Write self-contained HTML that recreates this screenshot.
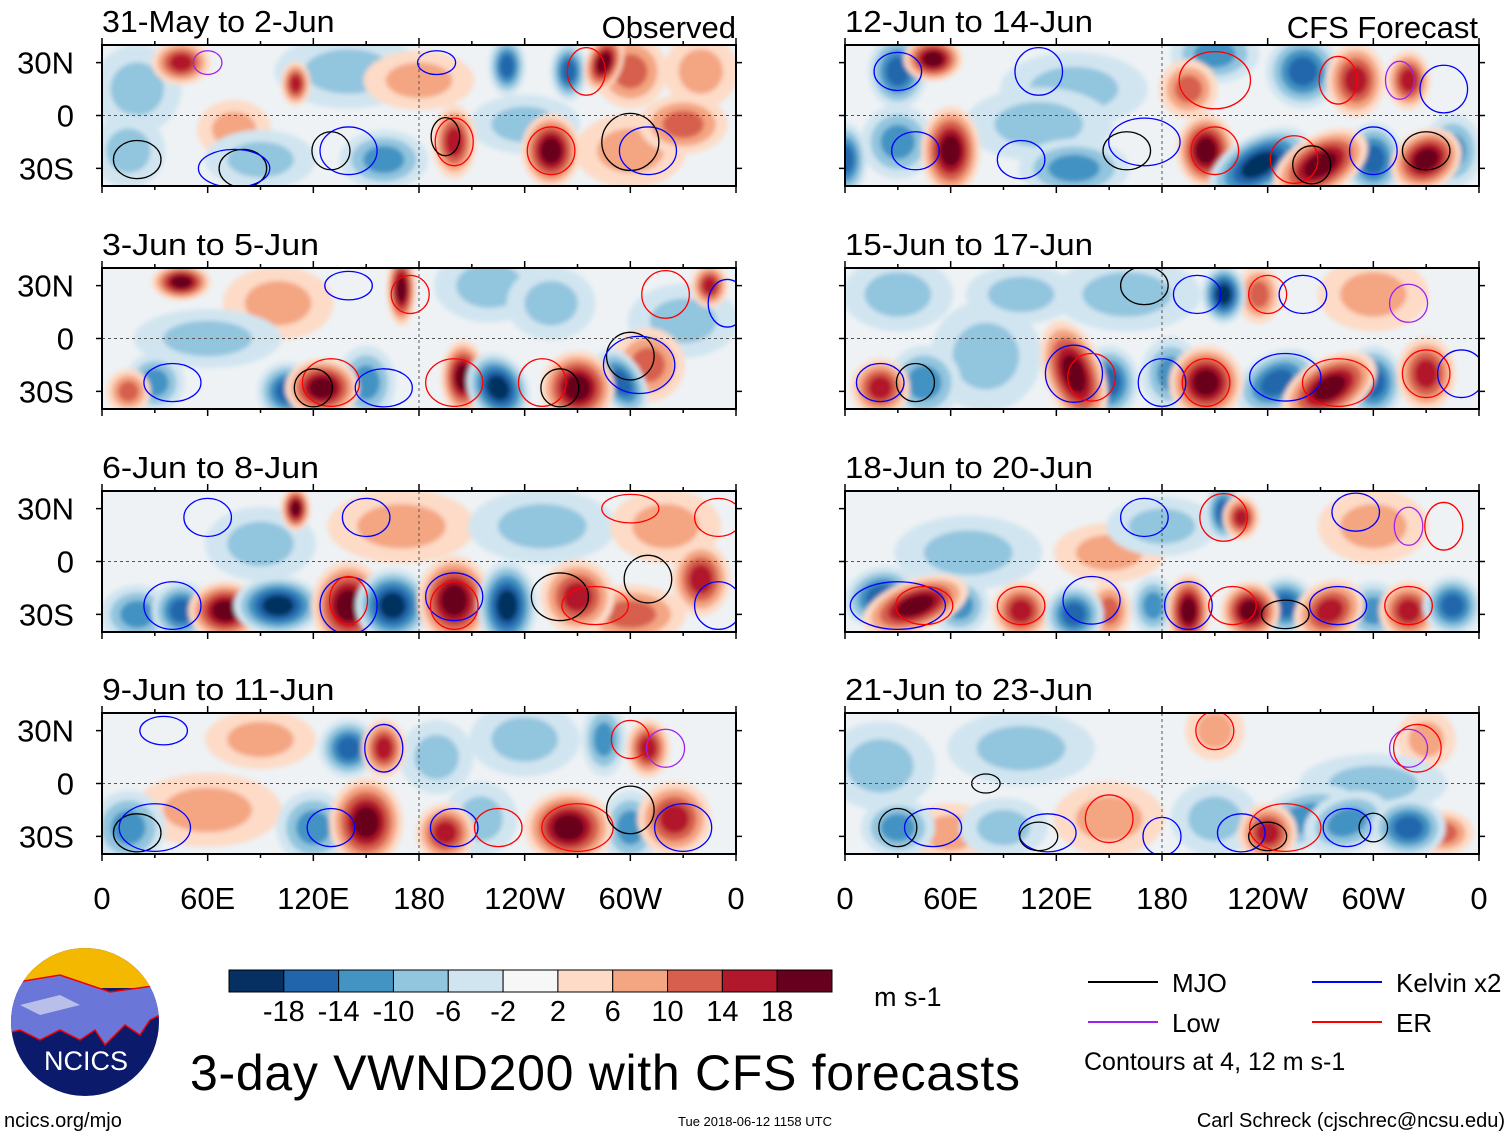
<!DOCTYPE html>
<html><head><meta charset="utf-8">
<style>
body{margin:0;background:#fff;font-family:"Liberation Sans",sans-serif;}
svg{display:block}
text{font-family:"Liberation Sans",sans-serif;}
</style></head>
<body>
<svg id="fig" width="1510" height="1137" viewBox="0 0 1510 1137">
<defs>
<filter id="blur" x="-20%" y="-20%" width="140%" height="140%"><feGaussianBlur stdDeviation="2.5"/></filter>
</defs>
</svg>
<script>
const levels = [-18,-14,-10,-6,-2,2,6,10,14,18];
const colors = ["#053061","#2166ac","#4393c3","#92c5de","#d1e5f0","#f7f7f7","#fddbc7","#f4a582","#d6604d","#b2182b","#67001f"];
const panelTitles = ["31-May to 2-Jun","3-Jun to 5-Jun","6-Jun to 8-Jun","9-Jun to 11-Jun","12-Jun to 14-Jun","15-Jun to 17-Jun","18-Jun to 20-Jun","21-Jun to 23-Jun"];
const lonTicks = ["0","60E","120E","180","120W","60W","0"];
const latTicks = ["30N","0","30S"];
// anomaly blobs: [lon, lat, value, rxDeg, ryDeg, angle]
const blobs0 = [[45,30,14,8,6,0],[110,18,14,4,6,0],[75,-8,6,10,8,0],[230,28,-14,5,8,0],[285,30,18,5,8,20],[300,25,10,10,10,0],[265,25,-14,5,8,0],[200,-15,14,6,10,0],[255,-20,18,8,10,0],[160,-25,-10,12,8,0],[330,-5,10,12,8,0],[20,15,-6,12,12,0],[140,25,-6,20,10,0],[180,20,6,15,8,0],[240,-5,-6,15,8,0],[300,-20,6,15,10,0],[90,-25,-6,15,8,0],[340,25,6,10,10,0],[15,-20,-6,10,10,0]];
const blobs1 = [[45,32,18,8,5,0],[170,28,18,4,10,0],[125,-28,18,10,8,0],[105,-30,-14,8,8,0],[150,-25,-10,8,10,0],[205,-22,18,6,10,0],[225,-28,-18,8,10,-30],[270,-28,18,10,10,-30],[295,-25,-14,6,10,-30],[310,-15,10,10,10,0],[30,-25,-10,8,8,0],[15,-30,10,6,6,0],[345,30,14,5,6,0],[100,20,6,15,10,0],[220,30,-6,15,10,0],[255,20,-6,12,10,0],[60,0,-6,20,8,0],[330,10,-6,15,10,0]];
const blobs2 = [[70,-28,18,10,8,0],[45,-28,-14,8,8,0],[100,-25,-18,12,8,0],[140,-25,18,10,12,0],[165,-25,-18,10,10,0],[200,-22,18,10,12,0],[230,-25,-18,8,12,0],[270,-20,14,10,10,-30],[300,-30,10,15,8,0],[340,-10,14,8,10,0],[110,30,18,4,6,0],[20,-30,-10,10,8,0],[170,20,6,20,10,0],[250,20,-6,20,10,0],[90,10,-6,15,10,0],[320,20,6,15,10,0]];
const blobs3 = [[140,20,-14,8,8,0],[160,20,14,6,8,0],[190,15,-6,10,10,0],[150,-22,18,10,12,0],[120,-25,-10,10,10,0],[195,-28,14,8,8,0],[215,-20,-6,10,10,0],[265,-25,18,12,10,0],[300,-25,-10,8,10,0],[325,-20,14,10,10,0],[285,25,-10,6,10,0],[310,20,14,6,8,0],[15,-25,-10,10,10,0],[60,-15,6,20,10,0],[240,25,-6,15,10,0],[90,25,6,15,8,0]];
const blobs4 = [[30,25,-14,8,10,0],[50,32,18,8,6,0],[0,-25,-14,6,10,0],[60,-20,18,8,12,0],[30,-15,-10,10,10,0],[130,15,-6,20,10,0],[130,-30,-10,15,8,0],[205,-20,18,8,10,0],[235,-28,-18,15,8,-30],[270,-28,18,14,8,-30],[300,-25,-14,8,10,0],[330,-25,18,10,8,-30],[260,25,-14,10,10,0],[290,20,14,8,10,0],[210,35,-10,12,8,0],[195,15,10,8,8,0],[345,-20,-10,8,10,0],[110,-5,-6,20,10,0],[320,20,14,6,8,0]];
const blobs5 = [[20,-28,14,8,8,0],[45,-25,-10,10,10,0],[80,-10,-6,15,15,0],[130,-20,18,8,15,-20],[150,-25,-14,8,10,0],[185,-20,-10,8,10,0],[205,-25,18,10,10,0],[245,-25,-14,12,8,-30],[275,-28,18,14,8,-30],[300,-25,-14,8,10,0],[330,-20,14,8,10,0],[215,25,-18,6,8,0],[235,25,10,6,8,0],[160,25,-6,20,10,0],[300,25,6,15,10,0],[30,25,-6,15,10,0],[100,25,-6,15,8,0]];
const blobs6 = [[40,-25,18,15,7,-20],[20,-20,-14,10,8,-20],[65,-25,-10,8,8,0],[100,-28,14,8,8,0],[130,-30,-14,8,8,0],[150,-28,10,6,8,0],[175,-25,-10,6,8,0],[195,-28,18,6,10,0],[230,-28,18,8,8,-30],[250,-25,-14,8,8,0],[275,-28,14,10,8,-30],[300,-28,-10,8,8,0],[320,-28,14,8,8,0],[345,-25,-14,8,8,0],[215,28,-14,5,8,0],[225,25,14,5,6,0],[70,5,-6,20,10,0],[150,5,6,15,8,0],[300,20,6,15,10,0],[180,20,-6,15,8,0]];
const blobs7 = [[30,-25,-10,10,8,0],[60,-28,6,12,8,0],[90,-25,-6,12,8,0],[150,-20,6,15,10,0],[210,-20,-6,12,10,0],[240,-28,14,8,8,0],[260,-20,-10,15,8,-20],[285,-22,-10,12,8,-20],[320,-25,-14,10,8,0],[340,-28,10,8,6,0],[210,30,6,8,8,0],[330,25,6,8,8,0],[100,20,-6,20,10,0],[20,10,-6,15,12,0],[300,0,-6,20,8,0]];
// contours: [lon, lat, rxDeg, ryDeg, type]  type: 0 MJO,1 Kelvin,2 ER,3 Low
const conts0 = [[20,-25,10,8,0],[80,-30,10,8,0],[140,-20,12,10,1],[130,-20,8,8,0],[200,-15,8,10,2],[195,-12,6,8,0],[255,-20,10,10,2],[300,-15,12,12,0],[310,-20,12,10,1],[75,-30,15,8,1],[190,30,8,5,1],[275,25,8,10,2],[60,30,6,5,3]];
const conts1 = [[40,-25,12,8,1],[130,-25,12,10,2],[120,-28,8,8,0],[160,-28,12,8,1],[200,-25,12,10,2],[250,-25,10,10,2],[260,-28,8,8,0],[300,-10,10,10,0],[305,-15,15,12,1],[140,30,10,6,1],[175,25,8,8,2],[320,25,10,10,2],[355,20,8,10,1]];
const conts2 = [[40,-25,12,10,1],[140,-25,12,12,1],[140,-22,8,10,2],[200,-20,12,10,1],[200,-25,10,10,2],[260,-20,12,10,0],[280,-25,14,8,2],[310,-10,10,10,0],[350,-25,10,10,1],[150,25,10,8,1],[60,25,10,8,1],[300,30,12,6,2],[350,25,10,8,2]];
const conts3 = [[20,-28,10,8,0],[30,-25,15,10,1],[130,-25,10,8,1],[200,-25,10,8,1],[225,-25,10,8,2],[270,-25,15,10,2],[300,-15,10,10,0],[330,-25,12,10,1],[160,20,8,10,1],[300,25,8,8,2],[320,20,8,8,3],[35,30,10,6,1]];
const conts4 = [[40,-20,10,8,1],[100,-25,10,8,1],[170,-15,15,10,1],[160,-20,10,8,0],[210,-20,10,10,2],[255,-25,10,10,2],[265,-28,8,8,0],[300,-20,10,10,1],[330,-20,10,8,0],[110,25,10,10,1],[210,20,15,12,2],[280,20,8,10,2],[315,20,6,8,3],[340,15,10,10,1],[30,25,10,8,1]];
const conts5 = [[20,-25,10,8,1],[40,-25,8,8,0],[130,-20,12,12,1],[140,-22,10,10,2],[180,-25,10,10,1],[205,-25,10,10,2],[250,-22,15,10,1],[280,-25,15,10,2],[330,-20,10,10,2],[350,-20,10,10,1],[170,30,10,8,0],[240,25,8,8,2],[320,20,8,8,3],[260,25,10,8,1],[200,25,10,8,1]];
const conts6 = [[30,-25,20,10,1],[45,-25,12,8,2],[100,-25,10,8,2],[140,-22,12,10,1],[195,-25,10,10,1],[220,-25,10,8,2],[250,-30,10,6,0],[280,-25,12,8,1],[320,-25,10,8,2],[170,25,10,8,1],[215,25,10,10,2],[290,28,10,8,1],[320,20,6,8,3],[340,20,8,10,2]];
const conts7 = [[50,-25,12,8,1],[30,-25,8,8,0],[115,-28,12,8,1],[110,-30,8,6,0],[150,-20,10,10,2],[180,-30,8,8,1],[225,-28,10,8,1],[240,-30,8,6,0],[250,-25,15,10,2],[285,-25,10,8,1],[300,-25,6,6,0],[80,0,6,4,0],[210,30,8,8,2],[320,20,8,8,3],[325,20,10,10,2]];
const allBlobs=[blobs0,blobs1,blobs2,blobs3,blobs4,blobs5,blobs6,blobs7];
const allConts=[conts0,conts1,conts2,conts3,conts4,conts5,conts6,conts7];
const contColors=["#000000","#0000ff","#ff0000","#a020f0"];
const BLOB_SCALE=2.1, CONT_SCALE=1.35;

const NS="http://www.w3.org/2000/svg";
const svg=document.getElementById('fig');
function mk(tag,attrs,parent){const e=document.createElementNS(NS,tag);for(const k in attrs)e.setAttribute(k,attrs[k]);(parent||svg).appendChild(e);return e;}
function colorFor(v){let i=0;while(i<levels.length&&v>levels[i])i++;return colors[i];}
const colX=[102,845], W=634, rowY=[45,268,491,713], H=141;

for(let p=0;p<8;p++){
  const col=p<4?0:1,row=p%4;
  const x0=colX[col],y0=rowY[row];
  const xs=lon=>x0+lon/360*W;
  const ys=lat=>y0+H/2-lat/80*H;
  const g=mk('g',{});
  
  
  const cid='clip'+p;
  const cp=mk('clipPath',{id:cid},svg);mk('rect',{x:x0,y:y0,width:W,height:H},cp);
  mk('rect',{x:x0,y:y0,width:W,height:H,fill:'#eef2f5'},g);
  const fg=mk('g',{'clip-path':'url(#'+cid+')'},g);
  const bg=mk('g',{filter:'url(#blur)'},fg);
  // sort: lighter/bigger first
  const sorted=allBlobs[p].slice().sort((a,b)=>Math.abs(a[2])-Math.abs(b[2]));
  sorted.forEach(b=>{
    const [lon,lat,v,rx,ry,a]=b;
    const cx=xs(lon),cy=ys(lat),rxp=rx*BLOB_SCALE/360*W,ryp=ry*BLOB_SCALE/80*H;
    const sgn=Math.sign(v);
    const steps=[];
    for(let l=2;l<=Math.abs(v);l+=4)steps.push(l);
    steps.forEach((l,k)=>{
      const f=1-k/steps.length*0.8;
      const el=mk('ellipse',{cx:cx,cy:cy,rx:rxp*f,ry:ryp*f,fill:colorFor(sgn*(l+1)),transform:'rotate('+a+' '+cx+' '+cy+')'},bg);
      
      
    });
  });
  const cg=mk('g',{},fg);
  allConts[p].forEach(c=>{
    const [lon,lat,rx,ry,t]=c;
    const el=mk('ellipse',{cx:xs(lon),cy:ys(lat),rx:rx*CONT_SCALE/360*W,ry:ry*CONT_SCALE/80*H,fill:'none',stroke:contColors[t],'stroke-width':1.3},cg);
    
    
  });
  mk('line',{x1:x0,x2:x0+W,y1:ys(0),y2:ys(0),stroke:'#555','stroke-dasharray':'3,3','stroke-width':1},g);
  mk('line',{x1:xs(180),x2:xs(180),y1:y0,y2:y0+H,stroke:'#555','stroke-dasharray':'3,3','stroke-width':1},g);
  mk('rect',{x:x0,y:y0,width:W,height:H,fill:'none',stroke:'#000','stroke-width':2},g);
  for(let i=0;i<=12;i++){const x=x0+i*W/12,len=i%2==0?7:4;
    mk('line',{x1:x,x2:x,y1:y0,y2:y0-len,stroke:'#000','stroke-width':1.5},g);
    mk('line',{x1:x,x2:x,y1:y0+H,y2:y0+H+len,stroke:'#000','stroke-width':1.5},g);}
  [30,0,-30].forEach(l=>{mk('line',{x1:x0,x2:x0-6,y1:ys(l),y2:ys(l),stroke:'#000','stroke-width':1.5},g);mk('line',{x1:x0+W,x2:x0+W+6,y1:ys(l),y2:ys(l),stroke:'#000','stroke-width':1.5},g);});
  const t=mk('text',{x:x0,y:y0-13,'font-size':31,textLength:panelTitles[p].length*15.5,lengthAdjust:'spacingAndGlyphs'},g);t.textContent=panelTitles[p];
  
  
  if(col==0){[30,0,-30].forEach((l,i)=>{const tt=mk('text',{x:74,y:ys(l)+11,'font-size':31,'text-anchor':'end'},g);tt.textContent=latTicks[i];
    
    });}
  if(row==3){lonTicks.forEach((s,i)=>{const tt=mk('text',{x:x0+i*W/6,y:909,'font-size':31,'text-anchor':'middle'},g);tt.textContent=s;
    
    });}
}
function txt(x,y,s,size,name,anchor){const t=mk('text',{x:x,y:y,'font-size':size,'text-anchor':anchor||'start'});t.textContent=s;
  
  return t;}
txt(736,38,'Observed',31,'observed-label','end');
txt(1478,38,'CFS Forecast',31,'cfs-forecast-label','end');
const cb=mk('g',{});


const cbx=229,cbw=603/11;
colors.forEach((c,i)=>mk('rect',{x:cbx+i*cbw,y:970,width:cbw,height:22,fill:c,stroke:'#000','stroke-width':1},cb));
levels.forEach((l,i)=>{const t=mk('text',{x:cbx+(i+1)*cbw,y:1021,'font-size':29,'text-anchor':'middle'},cb);t.textContent=l;});
txt(874,1006,'m s-1',27,'units-label');
txt(605,1090,'3-day VWND200 with CFS forecasts',50,'main-title','middle').setAttribute('textLength','830');
txt(4,1127,'ncics.org/mjo',20,'site-url');
txt(755,1126,'Tue 2018-06-12 1158 UTC',13,'timestamp','middle');
txt(1505,1127,'Carl Schreck (cjschrec@ncsu.edu)',20,'author-credit','end');
const leg=[[1088,982,'MJO',0],[1312,982,'Kelvin x2',1],[1088,1022,'Low',3],[1312,1022,'ER',2]];
leg.forEach(l=>{mk('line',{x1:l[0],x2:l[0]+70,y1:l[1],y2:l[1],stroke:contColors[l[3]],'stroke-width':2});txt(l[0]+84,l[1]+10,l[2],26,'legend-entry');});
txt(1084,1070,'Contours at 4, 12 m s-1',25,'contour-note');
const lg=mk('g',{});


const lcp=mk('clipPath',{id:'lc'},svg);mk('ellipse',{cx:85,cy:1022,rx:74,ry:74},lcp);
const lgi=mk('g',{'clip-path':'url(#lc)'},lg);
mk('rect',{x:0,y:940,width:170,height:170,fill:'#0c1a6b'},lgi);
mk('rect',{x:0,y:940,width:170,height:48,fill:'#f5b800'},lgi);
mk('path',{d:'M0 985 L60 975 L110 992 L160 985 L170 990 L170 1010 L150 1020 L140 1035 L125 1025 L105 1045 L95 1030 L80 1040 L60 1030 L40 1040 L20 1030 L0 1035 Z',fill:'#6a76d8',stroke:'#e00','stroke-width':1.5},lgi);
mk('path',{d:'M20 1005 L60 995 L80 1005 L40 1015 Z',fill:'#b8bfe8'},lgi);
txt(86,1070,'NCICS',27,'logo-text','middle').setAttribute('fill','#fff');
</script>
</body></html>
